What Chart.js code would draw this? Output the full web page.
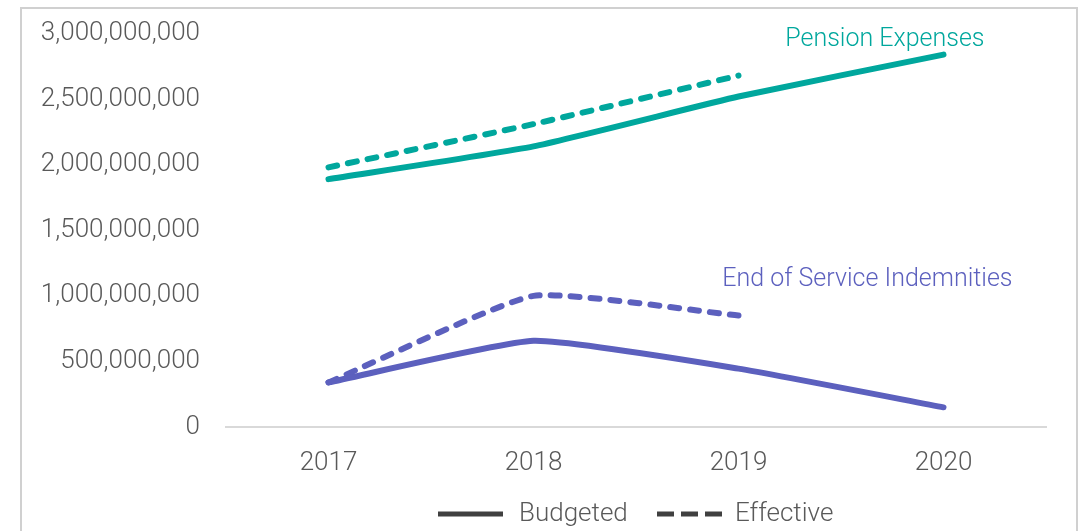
<!DOCTYPE html>
<html>
<head>
<meta charset="utf-8">
<script src="https://cdn.jsdelivr.net/npm/chart.js@4"></script>
<style>
    body { margin: 0; background: #fff; }
    #wrap { position: relative; width: 1084px; height: 531px; }
    #frame { position: absolute; left: 20px; top: 7px; width: 1058px; height: 530px; border: 2px solid #d0d0d0; box-sizing: border-box; }
    canvas { position: absolute; left: 0; top: 0; }
</style>
</head>
<body>
<div id="wrap">
    <div id="frame"></div>
    <canvas id="chart" width="1084" height="531"></canvas>
</div>
<script>
const years = ['2017', '2018', '2019', '2020'];
const pensionBudgeted = [1.89e9, 2.14e9, 2.52e9, 2.84e9];
const pensionEffective = [1.98e9, 2.31e9, 2.68e9, null];
const endServiceBudgeted = [0.34e9, 0.657e9, 0.445e9, 0.15e9];
const endServiceEffective = [0.34e9, 1.0e9, 0.85e9, null];
const yTicks = [0, 5e8, 1e9, 1.5e9, 2e9, 2.5e9, 3e9];
const legendNames = ['Budgeted', 'Effective'];

const teal = '#00A79D';
const purple = '#5C60BE';
const textGray = '#595959';
const fontFamily = "Roboto, 'Liberation Sans', sans-serif";

// series labels written next to the lines, placed on the value scale
const seriesLabels = [
    {text: 'Pension Expenses', color: teal, xIndex: 3, xShift: 41, value: 2.95e9},
    {text: 'End of Service Indemnities', color: purple, xIndex: 3, xShift: 69, value: 1.12e9}
];

const lineLabelPlugin = {
    id: 'lineLabels',
    afterDatasetsDraw(chart) {
        const ctx = chart.ctx;
        const xs = chart.scales.x;
        const ys = chart.scales.y;
        ctx.save();
        ctx.font = '300 25px ' + fontFamily;
        ctx.textAlign = 'right';
        ctx.textBaseline = 'middle';
        seriesLabels.forEach(l => {
            ctx.fillStyle = l.color;
            ctx.fillText(l.text, xs.getPixelForValue(l.xIndex) + l.xShift, ys.getPixelForValue(l.value));
        });
        ctx.restore();
    }
};

// legend drawn below the axis: line sample then name
const legendPlugin = {
    id: 'lineLegend',
    afterDraw(chart) {
        const ctx = chart.ctx;
        const starts = [438, 657];
        const y = 514;
        ctx.save();
        ctx.font = '300 26px ' + fontFamily;
        ctx.textBaseline = 'middle';
        legendNames.forEach((name, i) => {
            ctx.strokeStyle = '#404040';
            ctx.lineWidth = 5;
            ctx.lineCap = 'butt';
            ctx.setLineDash(i === 1 ? [17, 7] : []);
            ctx.beginPath();
            ctx.moveTo(starts[i], y);
            ctx.lineTo(starts[i] + 65, y);
            ctx.stroke();
            ctx.setLineDash([]);
            ctx.fillStyle = textGray;
            ctx.fillText(name, starts[i] + (i === 1 ? 78 : 81), y);
        });
        ctx.restore();
    }
};

function line(label, data, color, dashed) {
    return {
        label: label,
        data: data,
        borderColor: color,
        backgroundColor: color,
        borderWidth: 6,
        borderCapStyle: 'round',
        borderJoinStyle: 'round',
        borderDash: dashed ? [9, 11] : [],
        pointRadius: 0,
        tension: 0.15,
        spanGaps: false
    };
}

new Chart(document.getElementById('chart'), {
    type: 'line',
    data: {
        labels: years,
        datasets: [
            line('Pension Budgeted', pensionBudgeted, teal, false),
            line('Pension Effective', pensionEffective, teal, true),
            line('EOS Budgeted', endServiceBudgeted, purple, false),
            line('EOS Effective', endServiceEffective, purple, true)
        ]
    },
    options: {
        responsive: false,
        animation: false,
        layout: {padding: {top: 8, right: 38, left: 0, bottom: 0}},
        scales: {
            x: {
                offset: true,
                grid: {display: false},
                border: {display: true, color: '#d9d9d9', width: 2},
                ticks: {color: textGray, font: {family: fontFamily, size: 26, weight: 300}, padding: 13},
                afterFit: s => { s.height = 104; }
            },
            y: {
                min: 0,
                max: 3e9,
                afterBuildTicks: s => { s.ticks = yTicks.map(v => ({value: v})); },
                grid: {display: false},
                border: {display: false},
                ticks: {
                    color: textGray,
                    padding: 18,
                    font: {family: fontFamily, size: 26, weight: 300},
                    callback: v => v.toLocaleString('en-US')
                },
                afterFit: s => { s.width = 226; }
            }
        },
        plugins: {
            tooltip: {enabled: false},
            legend: {display: false}
        }
    },
    plugins: [lineLabelPlugin, legendPlugin]
});
</script>
</body>
</html>
